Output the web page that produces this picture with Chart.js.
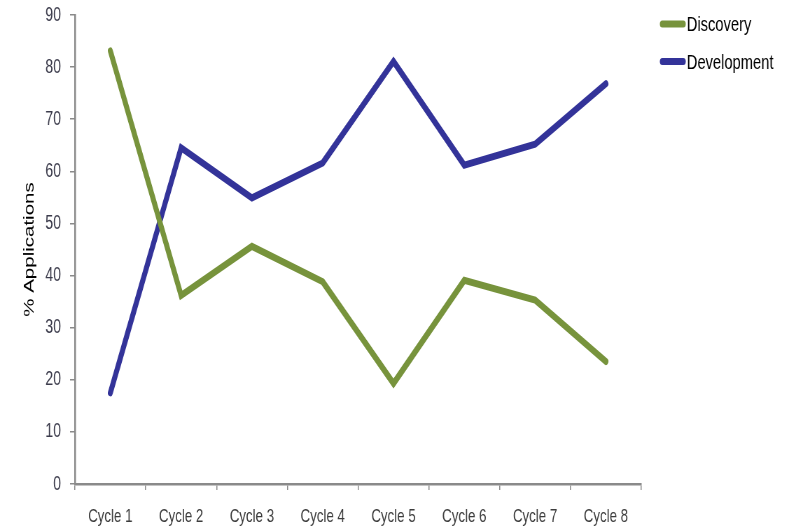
<!DOCTYPE html>
<html>
<head>
<meta charset="utf-8">
<title>% Applications by cycle</title>
<script src="https://cdn.jsdelivr.net/npm/chart.js@4/dist/chart.umd.min.js"></script>
<style>
  html, body { margin: 0; padding: 0; background: #ffffff; overflow: hidden; }
  #wrap { width: 796px; height: 531px; }
</style>
</head>
<body>
<!-- drawing surface is wider than its box, so the chart renders horizontally condensed -->
<div id="wrap"><canvas id="chart" width="1137" height="531" style="display:block;width:796px;height:531px;"></canvas></div>
<script>
const categories = ['Cycle 1', 'Cycle 2', 'Cycle 3', 'Cycle 4', 'Cycle 5', 'Cycle 6', 'Cycle 7', 'Cycle 8'];
const discovery = [83.1, 36.2, 45.6, 38.8, 19.3, 39.1, 35.3, 23.5];
const development = [17.5, 64.5, 54.9, 61.6, 81.1, 61.2, 65.2, 76.8];
const yTicks = [0, 10, 20, 30, 40, 50, 60, 70, 80, 90];

const FONT = "'Liberation Sans', Arial, Helvetica, sans-serif";
const AXIS_GREY = '#8a8a8a';

// Legend drawn at the top right: a short thick line sample followed by the series name
const sideLegend = {
  id: 'sideLegend',
  afterDraw(chart) {
    const ctx = chart.ctx;
    const rows = [24, 61.5];
    ctx.save();
    chart.data.datasets.forEach((ds, i) => {
      const y = rows[i];
      ctx.strokeStyle = ds.borderColor;
      ctx.lineWidth = 7;
      ctx.lineCap = 'round';
      ctx.beginPath();
      ctx.moveTo(946, y);
      ctx.lineTo(976, y);
      ctx.stroke();
      ctx.fillStyle = '#000000';
      ctx.font = '21px ' + FONT;
      ctx.textAlign = 'left';
      ctx.textBaseline = 'alphabetic';
      ctx.fillText(ds.label, 981, y + 7);
    });
    ctx.restore();
  }
};

new Chart(document.getElementById('chart'), {
  type: 'line',
  data: {
    labels: categories,
    datasets: [
      {
        label: 'Discovery',
        data: discovery,
        borderColor: '#77933c',
        backgroundColor: '#77933c',
        borderWidth: 7,
        borderCapStyle: 'round',
        borderJoinStyle: 'miter',
        pointRadius: 0,
        tension: 0
      },
      {
        label: 'Development',
        data: development,
        borderColor: '#333399',
        backgroundColor: '#333399',
        borderWidth: 7,
        borderCapStyle: 'round',
        borderJoinStyle: 'miter',
        pointRadius: 0,
        tension: 0
      }
    ]
  },
  options: {
    responsive: false,
    animation: false,
    devicePixelRatio: 1,
    layout: { padding: { top: 15, right: 221, left: 0, bottom: 0 } },
    plugins: {
      legend: { display: false },
      tooltip: { enabled: false }
    },
    scales: {
      x: {
        offset: true,
        grid: {
          offset: true,
          drawOnChartArea: false,
          drawTicks: true,
          tickLength: 6,
          color: AXIS_GREY,
          lineWidth: 1.5
        },
        border: { display: true, color: AXIS_GREY, width: 2.5 },
        ticks: {
          color: '#3c3c3c',
          font: { family: FONT, size: 19 },
          padding: 15,
          maxRotation: 0,
          autoSkip: false
        },
        afterFit(scale) { scale.height = 47; }
      },
      y: {
        min: 0,
        max: 90,
        afterBuildTicks(scale) { scale.ticks = yTicks.map(v => ({ value: v })); },
        grid: {
          drawOnChartArea: false,
          drawTicks: true,
          tickLength: 7,
          color: AXIS_GREY,
          lineWidth: 1.5
        },
        border: { display: true, color: AXIS_GREY, width: 2.5 },
        ticks: {
          color: '#3c3c4c',
          font: { family: FONT, size: 20 },
          padding: 13
        },
        title: {
          display: true,
          text: '% Applications',
          color: '#000000',
          font: { family: FONT, size: 20.5 },
          padding: { top: 30, bottom: 0 }
        },
        afterFit(scale) {
          scale.width = 107;
          // the plot's top edge is set by the layout padding alone
          scale.paddingTop = 0;
          scale.paddingBottom = 0;
        }
      }
    }
  },
  plugins: [sideLegend]
});
</script>
</body>
</html>
